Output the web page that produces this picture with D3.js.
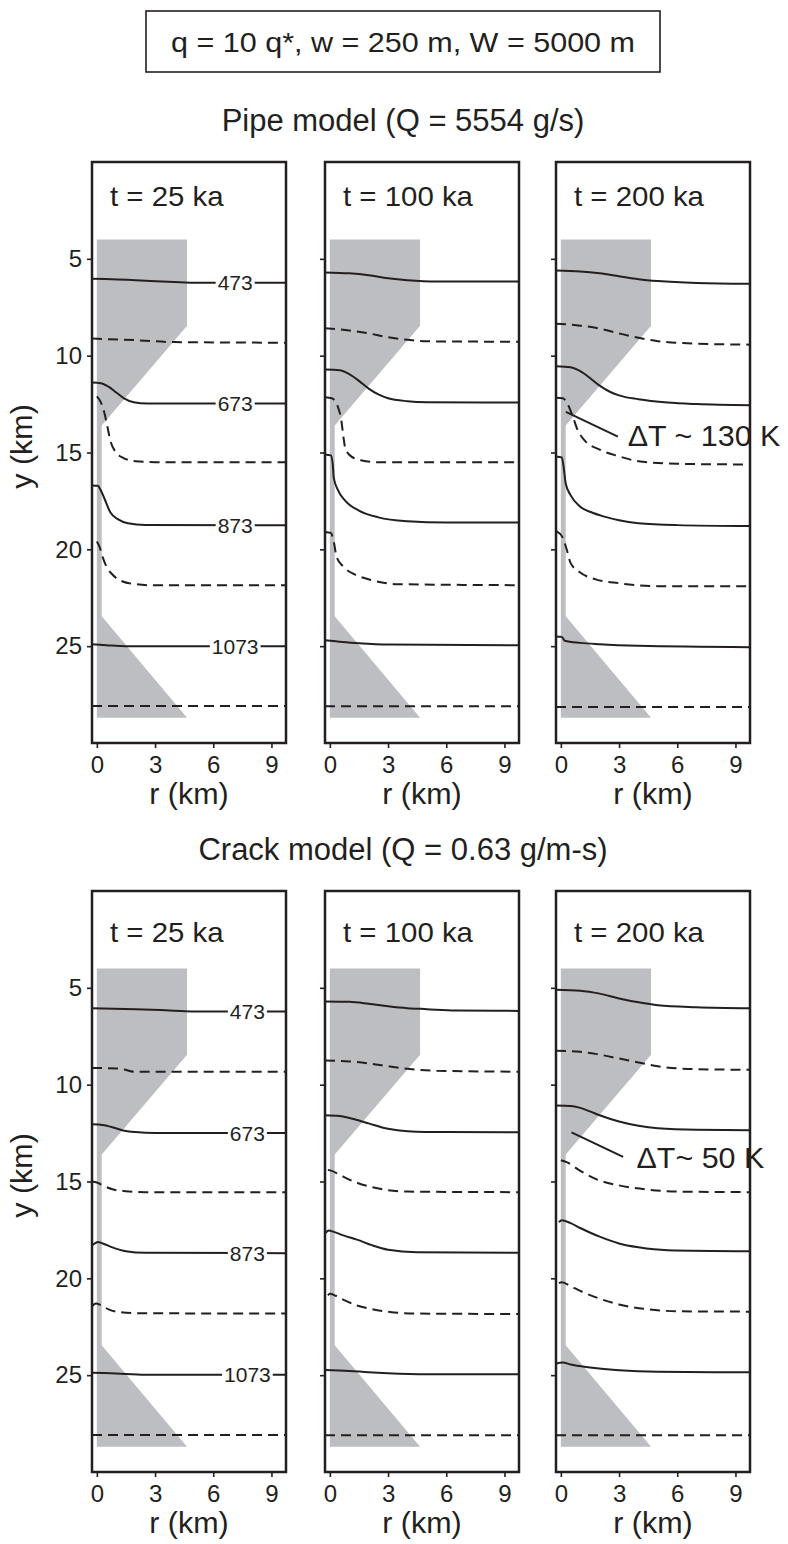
<!DOCTYPE html>
<html>
<head>
<meta charset="utf-8">
<script src="https://cdn.jsdelivr.net/npm/d3@7"></script>
<style>
  body { margin: 0; background: #fff; }
  svg text { font-family: "Liberation Sans", Arial, sans-serif; fill: #231f20; }
</style>
</head>
<body>
<svg id="chart" width="788" height="1544"></svg>
<script>
// 参数说明
const caption = "q = 10 q*, w = 250 m, W = 5000 m";
const rowTitles = ["Pipe model (Q = 5554 g/s)", "Crack model (Q = 0.63 g/m-s)"];
const timeLabels = ["t = 25 ka", "t = 100 ka", "t = 200 ka"];
const rTicks = [0, 3, 6, 9];
const yTicks = [5, 10, 15, 20, 25];

// 等温线 (K)，实线/虚线交替
const levels = [473, 573, 673, 773, 873, 973, 1073, 1173];
const labeledLevels = [473, 673, 873, 1073];

// 岩浆通道（灰色区域）轮廓 [r, y]
const conduit = [[0, 4], [4.65, 4], [4.65, 8.45], [0.25, 13.6], [0.25, 23.45], [4.65, 28.7], [0, 28.7]];

// 各面板等温线 [r (km), y (km)]
const pipe25 = [
  [[-0.25, 6.03], [2, 6.1], [4, 6.2], [5, 6.24], [9.75, 6.24]],
  [[-0.25, 9.12], [2, 9.2], [4, 9.3], [9.75, 9.33]],
  [[-0.25, 11.39], [0.2, 11.42], [0.6, 11.6], [1.0, 11.9], [1.4, 12.2], [1.9, 12.4], [2.6, 12.47], [9.75, 12.47]],
  [[0, 12.1], [0.2, 12.4], [0.4, 13.0], [0.55, 13.7], [0.7, 14.4], [0.95, 14.95], [1.4, 15.3], [2.0, 15.45], [3, 15.5], [9.75, 15.5]],
  [[-0.25, 16.7], [0.05, 16.72], [0.2, 16.95], [0.4, 17.4], [0.7, 18.1], [1.1, 18.45], [1.6, 18.65], [2.5, 18.74], [9.75, 18.76]],
  [[0, 19.6], [0.15, 19.9], [0.3, 20.4], [0.5, 20.9], [0.8, 21.3], [1.3, 21.65], [2, 21.8], [3, 21.86], [9.75, 21.86]],
  [[-0.25, 24.9], [0.5, 24.95], [1.5, 25.0], [9.75, 25.0]],
  [[-0.25, 28.09], [9.75, 28.09]]
];
const pipe100 = [
  [[-0.25, 5.7], [1, 5.75], [2, 5.85], [3, 6.0], [4, 6.1], [5.5, 6.17], [9.75, 6.17]],
  [[-0.25, 8.59], [1, 8.7], [2, 8.85], [3, 9.05], [4, 9.18], [5, 9.26], [9.75, 9.28]],
  [[-0.25, 10.72], [0.5, 10.75], [1, 10.95], [1.5, 11.3], [2, 11.7], [2.5, 12.0], [3, 12.2], [4, 12.35], [5, 12.4], [9.75, 12.42]],
  [[-0.25, 12.15], [0.1, 12.2], [0.4, 12.6], [0.6, 13.4], [0.7, 14.2], [0.8, 14.8], [1.1, 15.2], [1.6, 15.4], [2.5, 15.5], [9.75, 15.5]],
  [[-0.25, 15.1], [0.05, 15.15], [0.15, 15.6], [0.2, 16.3], [0.4, 16.9], [0.8, 17.5], [1.5, 18.0], [2.5, 18.35], [4, 18.55], [6, 18.62], [9.75, 18.62]],
  [[-0.25, 19.1], [0.05, 19.15], [0.2, 19.6], [0.35, 20.4], [0.7, 20.9], [1.3, 21.3], [2.2, 21.6], [3.5, 21.8], [9.75, 21.85]],
  [[-0.25, 24.7], [0.3, 24.75], [1.5, 24.85], [3, 24.92], [9.75, 24.95]],
  [[-0.25, 28.1], [9.75, 28.1]]
];
const pipe200 = [
  [[-0.25, 5.6], [1, 5.65], [2, 5.75], [3, 5.9], [4, 6.05], [5, 6.15], [7, 6.25], [9.75, 6.29]],
  [[-0.25, 8.35], [1, 8.45], [2, 8.6], [3, 8.85], [4, 9.08], [5, 9.25], [7, 9.38], [9.75, 9.43]],
  [[-0.25, 10.55], [0.5, 10.6], [1, 10.8], [1.5, 11.15], [2, 11.55], [2.5, 11.85], [3, 12.05], [4, 12.25], [5.5, 12.42], [7, 12.5], [9.75, 12.56]],
  [[-0.25, 12.17], [0.1, 12.2], [0.35, 12.5], [0.6, 13.1], [0.85, 13.8], [1.2, 14.35], [2, 14.85], [3, 15.2], [4, 15.45], [6, 15.58], [9.75, 15.62]],
  [[-0.25, 15.2], [0.05, 15.25], [0.15, 15.8], [0.25, 16.6], [0.5, 17.2], [1, 17.8], [1.6, 18.1], [2.2, 18.3], [3, 18.5], [4, 18.65], [6, 18.75], [9.75, 18.8]],
  [[-0.25, 19.05], [0.1, 19.4], [0.3, 20.0], [0.5, 20.7], [1, 21.2], [1.8, 21.55], [3, 21.75], [5, 21.9], [9.75, 21.9]],
  [[-0.25, 24.5], [0.05, 24.52], [0.2, 24.72], [1, 24.83], [2, 24.9], [4, 24.98], [9.75, 25.05]],
  [[-0.25, 28.14], [9.75, 28.14]]
];
const crack25 = [
  [[-0.25, 6.05], [2, 6.1], [4, 6.18], [5, 6.22], [9.75, 6.22]],
  [[-0.25, 9.14], [1, 9.16], [1.4, 9.22], [1.9, 9.33], [9.75, 9.33]],
  [[-0.25, 12.05], [0.3, 12.08], [0.8, 12.2], [1.3, 12.35], [2, 12.45], [3, 12.5], [9.75, 12.5]],
  [[-0.25, 15.0], [0, 15.05], [0.4, 15.25], [0.8, 15.4], [1.5, 15.5], [2.5, 15.55], [9.75, 15.55]],
  [[-0.25, 18.3], [-0.1, 18.2], [0.05, 18.12], [0.3, 18.2], [0.8, 18.4], [1.5, 18.6], [2.5, 18.68], [9.75, 18.7]],
  [[-0.25, 21.45], [-0.05, 21.3], [0.2, 21.38], [0.6, 21.6], [1.2, 21.75], [2, 21.8], [9.75, 21.82]],
  [[-0.25, 24.87], [1, 24.92], [2.5, 24.98], [9.75, 24.98]],
  [[-0.25, 28.09], [9.75, 28.09]]
];
const crack100 = [
  [[-0.25, 5.7], [1, 5.72], [2, 5.82], [3, 5.95], [4, 6.05], [5, 6.1], [6.5, 6.17], [9.75, 6.19]],
  [[-0.25, 8.75], [1, 8.8], [2, 8.9], [3, 9.05], [4, 9.18], [5.5, 9.28], [9.75, 9.33]],
  [[-0.25, 11.58], [0.5, 11.62], [1, 11.72], [1.5, 11.85], [2, 12.0], [3, 12.28], [4, 12.4], [6, 12.45], [9.75, 12.46]],
  [[-0.1, 14.4], [0.1, 14.45], [0.5, 14.65], [1, 14.9], [1.5, 15.1], [2.2, 15.3], [3, 15.45], [4, 15.52], [9.75, 15.55]],
  [[-0.25, 17.68], [-0.05, 17.53], [0.2, 17.6], [0.7, 17.78], [1.4, 18.0], [2.2, 18.3], [3, 18.52], [4.5, 18.65], [9.75, 18.68]],
  [[-0.1, 20.88], [0, 20.8], [0.3, 20.9], [0.8, 21.15], [1.4, 21.4], [2.2, 21.6], [3.1, 21.74], [4.5, 21.82], [9.75, 21.84]],
  [[-0.25, 24.73], [1, 24.78], [2, 24.85], [3, 24.9], [5, 24.95], [9.75, 24.95]],
  [[-0.25, 28.1], [9.75, 28.1]]
];
const crack200 = [
  [[-0.25, 5.1], [1, 5.15], [2, 5.3], [3, 5.55], [4, 5.75], [5, 5.9], [7, 6.0], [9.75, 6.05]],
  [[-0.25, 8.25], [1, 8.3], [2, 8.45], [3, 8.65], [4, 8.85], [5, 9.05], [7, 9.2], [9.75, 9.23]],
  [[-0.25, 11.08], [0.5, 11.1], [1, 11.2], [1.5, 11.38], [2, 11.58], [3, 11.9], [4, 12.12], [5, 12.25], [7, 12.33], [9.75, 12.35]],
  [[0, 13.9], [0.3, 14.0], [1, 14.45], [2, 14.95], [3, 15.2], [4.5, 15.42], [6, 15.52], [9.75, 15.55]],
  [[-0.1, 17.1], [0.05, 17.0], [0.5, 17.15], [1, 17.4], [2, 17.85], [3, 18.2], [4, 18.4], [5.5, 18.55], [9.75, 18.6]],
  [[-0.1, 20.25], [0.05, 20.2], [0.5, 20.4], [1, 20.65], [2, 21.05], [3, 21.35], [4.5, 21.6], [6, 21.7], [9.75, 21.72]],
  [[-0.25, 24.4], [0.1, 24.35], [0.5, 24.45], [1.5, 24.6], [3, 24.75], [5, 24.83], [9.75, 24.85]],
  [[-0.25, 28.1], [9.75, 28.1]]
];
const panelData = [[pipe25, pipe100, pipe200], [crack25, crack100, crack200]];

// 温差标注
const notes = [
  { row: 0, col: 2, text: "\u0394T ~ 130 K", from: [0.26, 12.9], to: [2.94, 14.18], at: [3.45, 14.69] },
  { row: 1, col: 2, text: "\u0394T~ 50 K", from: [0.55, 12.46], to: [3.21, 13.73], at: [3.9, 14.29] }
];

// 布局
const ink = "#231f20";
const rowTop = [162, 891];
const panelLeft = [92, 325, 556];
const PW = 194, PH = 581;
const labelR = [7.13, 7.76];
const timeBase = [44, 51];

const svg = d3.select('#chart');

// 横向拉伸文字
function stretch(sel, k) {
    sel.each(function() {
        const n = this.getComputedTextLength();
        d3.select(this).attr('textLength', n * k).attr('lengthAdjust', 'spacingAndGlyphs');
    });
}

// 顶部参数框
svg.append('rect')
    .attr('x', 146).attr('y', 11).attr('width', 514).attr('height', 61)
    .attr('fill', 'none').attr('stroke', ink).attr('stroke-width', 1.6);
svg.append('text')
    .attr('x', 403).attr('y', 52).attr('text-anchor', 'middle')
    .attr('font-size', 28).text(caption)
    .call(stretch, 1.09);

const xScale = d3.scaleLinear().domain([-0.25, 9.75]).range([0, PW]);
const yScale = d3.scaleLinear().domain([0, 30]).range([0, PH]);
const line = d3.line().x(d => xScale(d[0])).y(d => yScale(d[1])).curve(d3.curveMonotoneX);

rowTitles.forEach((title, row) => {
    svg.append('text')
        .attr('x', 403).attr('y', rowTop[row] - 31).attr('text-anchor', 'middle')
        .attr('font-size', 31).text(title);

    panelData[row].forEach((curves, col) => {
        const g = svg.append('g')
            .attr('transform', `translate(${panelLeft[col]},${rowTop[row]})`);
        const clipId = `clip-${row}-${col}`;
        g.append('clipPath').attr('id', clipId)
            .append('rect').attr('width', PW).attr('height', PH);
        const inner = g.append('g').attr('clip-path', `url(#${clipId})`);

        // 灰色通道
        inner.append('path')
            .attr('d', d3.line().x(d => xScale(d[0])).y(d => yScale(d[1]))(conduit) + 'Z')
            .attr('fill', '#bdbec1');

        // 等温线
        inner.selectAll('path.iso')
            .data(curves)
            .enter().append('path')
            .attr('class', 'iso')
            .attr('d', line)
            .attr('fill', 'none')
            .attr('stroke', ink)
            .attr('stroke-width', 2)
            .attr('stroke-dasharray', (d, i) => i % 2 ? '10,6' : null);

        // 等温线标注（仅第一列）
        if (col === 0) {
            labeledLevels.forEach(lv => {
                const pts = curves[levels.indexOf(lv)];
                const yv = pts[pts.length - 1][1];
                const cx = xScale(labelR[row]), cy = yScale(yv);
                const t = inner.append('text')
                    .attr('x', cx).attr('y', cy).attr('dy', '0.36em')
                    .attr('text-anchor', 'middle')
                    .attr('font-size', 21).text(lv);
                const w = t.node().getComputedTextLength();
                inner.insert('rect', 'text')
                    .attr('x', cx - w / 2 - 2).attr('y', cy - 9).attr('width', w + 4).attr('height', 18)
                    .attr('fill', '#fff');
            });
        }

        // 时间标签
        g.append('text')
            .attr('x', 18).attr('y', timeBase[row])
            .attr('font-size', 28).text(timeLabels[col])
            .call(stretch, 1.05);

        // 坐标轴
        const ya = g.append('g').call(d3.axisLeft(yScale).tickValues(yTicks).tickSize(5).tickPadding(5));
        ya.select('.domain').remove();
        ya.selectAll('line').attr('stroke', ink).attr('stroke-width', 1.6);
        ya.selectAll('text').attr('font-size', 24).attr('font-family', null).attr('fill', ink);
        if (col > 0) ya.selectAll('text').remove();

        const xa = g.append('g').attr('transform', `translate(0,${PH})`)
            .call(d3.axisBottom(xScale).tickValues(rTicks).tickSize(5).tickPadding(8));
        xa.select('.domain').remove();
        xa.selectAll('line').attr('stroke', ink).attr('stroke-width', 1.6);
        xa.selectAll('text').attr('font-size', 24).attr('font-family', null).attr('fill', ink);

        g.append('text')
            .attr('x', PW / 2).attr('y', PH + 61).attr('text-anchor', 'middle')
            .attr('font-size', 29).text('r (km)')
            .call(stretch, 1.05);

        if (col === 0) {
            g.append('text')
                .attr('transform', `translate(-60,${PH / 2 - 6}) rotate(-90)`)
                .attr('text-anchor', 'middle')
                .attr('font-size', 29).text('y (km)')
                .call(stretch, 1.05);
        }

        // 标注
        notes.filter(n => n.row === row && n.col === col).forEach(n => {
            g.append('line')
                .attr('x1', xScale(n.from[0])).attr('y1', yScale(n.from[1]))
                .attr('x2', xScale(n.to[0])).attr('y2', yScale(n.to[1]))
                .attr('stroke', ink).attr('stroke-width', 2);
            g.append('text')
                .attr('x', xScale(n.at[0])).attr('y', yScale(n.at[1]))
                .attr('font-size', 29).text(n.text)
                .call(stretch, 1.05);
        });

        // 边框
        g.append('rect')
            .attr('width', PW).attr('height', PH)
            .attr('fill', 'none').attr('stroke', ink).attr('stroke-width', 2.5);
    });
});
</script>
</body>
</html>
